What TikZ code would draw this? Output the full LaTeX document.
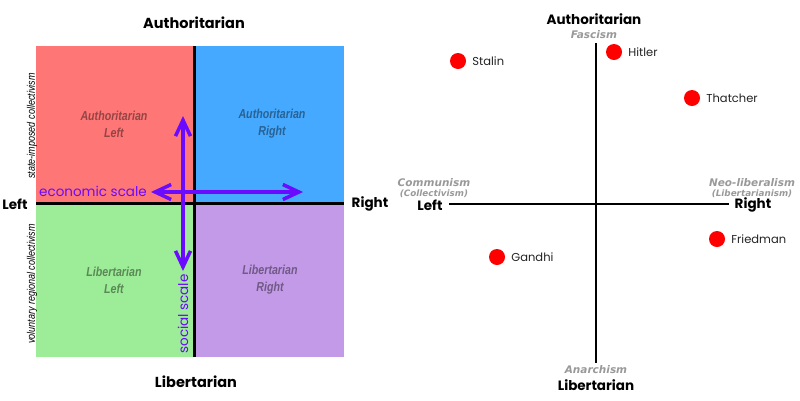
\documentclass[tikz,border=0pt]{standalone}
\usepackage{fontspec}
\setmainfont{Poppins}
\newfontfamily\narrowfont[FakeStretch=0.82]{Liberation Sans}
\newfontfamily\ismfont{DejaVu Sans}
\usepackage{xcolor}
\usepackage{tikz}
\usetikzlibrary{arrows.meta}

\definecolor{quadred}{HTML}{FF7676}
\definecolor{quadblue}{HTML}{45A9FF}
\definecolor{quadgreen}{HTML}{9DEC97}
\definecolor{quadpurple}{HTML}{C39AE8}
\definecolor{scaleviolet}{HTML}{6A0AFF}
\definecolor{ismgray}{HTML}{999999}
\definecolor{namegray}{HTML}{222222}

\begin{document}
\begin{tikzpicture}[x=1pt,y=-1pt,
  axis/.style={draw=black, line width=3pt},
  thinaxis/.style={draw=black, line width=2pt},
  pole/.style={inner sep=0pt, font=\bfseries\fontsize{13.5}{15}\selectfont},
  quad/.style={inner sep=0pt, align=center, text=black, text opacity=0.42,
    font=\narrowfont\bfseries\itshape\fontsize{13}{17}\selectfont},
  side/.style={inner sep=0pt, rotate=90, font=\narrowfont\itshape\fontsize{11}{12}\selectfont},
  scalearrow/.style={draw=scaleviolet, line width=3.5pt,
    {Straight Barb[length=16pt,width=15pt]}-{Straight Barb[length=16pt,width=15pt]}},
  scaletext/.style={inner sep=0pt, text=scaleviolet, font=\fontsize{13.5}{15}\selectfont},
  person/.style={circle, fill=red, minimum size=16pt, inner sep=0pt},
  who/.style={inner sep=0pt, anchor=west, xshift=6pt, text=namegray, font=\fontsize{11.5}{13}\selectfont},
  ism/.style={inner sep=0pt, text=ismgray, font=\ismfont\bfseries\itshape\fontsize{10.5}{11}\selectfont},
  subism/.style={inner sep=0pt, text=ismgray, font=\ismfont\bfseries\itshape\fontsize{8.8}{10}\selectfont}
]
\useasboundingbox (0,0) rectangle (800,400);

\fill[quadred] (36,46) rectangle (194.5,203);
\fill[quadblue] (194.5,46) rectangle (344,203);
\fill[quadgreen] (36,203) rectangle (194.5,357);
\fill[quadpurple] (194.5,203) rectangle (344,357);

\coordinate (ltop) at (194.5,46);
\coordinate (lbot) at (194.5,357);
\coordinate (lwest) at (36,203);
\coordinate (least) at (344,203);
\draw[axis] (ltop) -- (lbot);
\draw[axis] (lwest) -- (least);

\node[quad] (authleft) at (114,124) {Authoritarian\\Left};
\node[quad] (authright) at (272,124) {Authoritarian\\Right};
\node[quad] (libleft) at (114,280) {Libertarian\\Left};
\node[quad] (libright) at (270,280) {Libertarian\\Right};

\node[side] (stateimp) at (32,126) {state-imposed collectivism};
\node[side] (voluntary) at (32,284) {voluntary regional collectivism};

\node[pole, font=\bfseries\fontsize{14.5}{16}\selectfont] (lauth) at (194,23) {Authoritarian};
\node[pole, font=\bfseries\fontsize{14.5}{16}\selectfont] (llib) at (196,382) {Libertarian};
\node[pole] (lleft) at (15,204) {Left};
\node[pole] (lright) at (370,204) {Right};

\coordinate (econw) at (151,192);
\coordinate (econe) at (303,192);
\coordinate (socn) at (183,116);
\coordinate (socs) at (183,271);
\draw[scalearrow] (econw) -- (econe);
\draw[scalearrow] (socn) -- (socs);
\node[scaletext, anchor=east] (econtext) at (147,191) {economic scale};
\node[scaletext, rotate=90] (soctext) at (183,314) {social scale};

\coordinate (rtop) at (595.5,43);
\coordinate (rbot) at (595.5,363);
\coordinate (rwest) at (449,204);
\coordinate (reast) at (729,204);
\draw[thinaxis] (rtop) -- (rbot);
\draw[thinaxis] (rwest) -- (reast);

\node[pole] (rauth) at (594,19) {Authoritarian};
\node[ism] (fascism) at (594,35) {Fascism};
\node[ism] (anarchism) at (596,370) {Anarchism};
\node[pole] (rlib) at (596,385) {Libertarian};
\node[pole] (rleft) at (430,205) {Left};
\node[pole] (rright) at (753,205) {Right};
\node[ism] (communism) at (434,183) {Communism};
\node[subism] (collectivism) at (434,193.5) {(Collectivism)};
\node[ism] (neolib) at (752,183) {Neo-liberalism};
\node[subism] (libertarianism) at (752,193.5) {(Libertarianism)};

\node[person] (stalin) at (458,61) {};
\node[person] (hitler) at (614,52) {};
\node[person] (thatcher) at (692,98) {};
\node[person] (gandhi) at (497,257) {};
\node[person] (friedman) at (717,239) {};
\node[who] at (stalin.east) {Stalin};
\node[who] at (hitler.east) {Hitler};
\node[who] at (thatcher.east) {Thatcher};
\node[who] at (gandhi.east) {Gandhi};
\node[who] at (friedman.east) {Friedman};
\end{tikzpicture}
\end{document}
